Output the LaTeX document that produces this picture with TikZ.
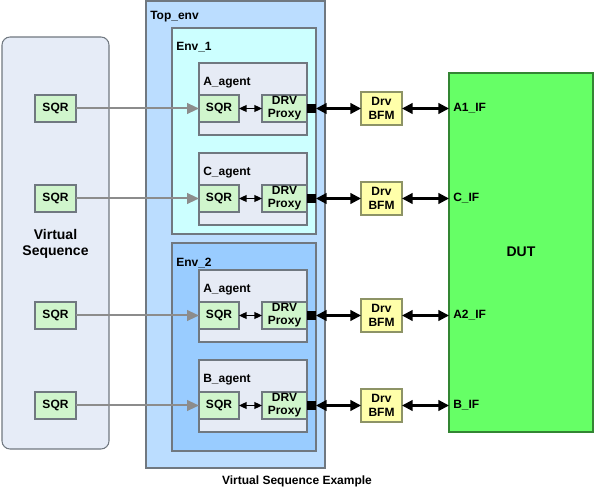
\documentclass[tikz,border=0pt]{standalone}
\usepackage{fontspec}
\setmainfont{Liberation Sans}
\usetikzlibrary{arrows.meta}
\definecolor{vsfill}{HTML}{E6ECF7}
\definecolor{topfill}{HTML}{BBDDFF}
\definecolor{envone}{HTML}{CCFFFF}
\definecolor{envtwo}{HTML}{99CCFF}
\definecolor{agfill}{HTML}{E6EBF5}
\definecolor{sqrfill}{HTML}{D0F5CC}
\definecolor{bfmfill}{HTML}{FFFFAA}
\definecolor{dutfill}{HTML}{66FF66}
\definecolor{bord}{HTML}{707880}
\tikzset{
  bx/.style 2 args={minimum width=#1*0.75pt, minimum height=#2*0.75pt, inner sep=0pt, outer sep=0pt},
  frame/.style={draw=bord, line width=0.8pt},
  sqrbox/.style={frame, fill=sqrfill, bx={40}{27}, font=\bfseries\fontsize{9}{10}\selectfont, align=center},
  drvbox/.style={frame, fill=sqrfill, bx={45}{27}, font=\bfseries\fontsize{9}{9.8}\selectfont, align=center},
  lsqr/.style={frame, fill=sqrfill, bx={41}{27}, font=\bfseries\fontsize{9}{10}\selectfont},
  bfmbox/.style={draw=bord!80!yellow, line width=0.8pt, fill=bfmfill, bx={41}{33}, font=\bfseries\fontsize{9}{10}\selectfont, align=center},
  agentbox/.style={frame, fill=agfill, bx={108}{72}},
  blk/.style={fill=black, bx={9}{9}},
  lbl/.style={anchor=west, inner sep=0pt, font=\bfseries\fontsize{9}{10}\selectfont},
  grayarrow/.style={draw=gray!90, line width=1.5pt, -{Triangle[length=9pt,width=8pt]}},
  smallarrow/.style={line width=1.2pt, {Triangle[length=5.8pt,width=5.2pt]}-{Triangle[length=5.8pt,width=5.2pt]}},
  bigarrow/.style={line width=1.6pt, {Triangle[length=8pt,width=8pt]}-{Triangle[length=8pt,width=8pt]}},
}
\begin{document}
\begin{tikzpicture}[x=0.75pt,y=-0.75pt]
\useasboundingbox (0,0) rectangle (594,492);
% containers
\node[frame, fill=vsfill, rounded corners=6pt, bx={107}{412}] (vs) at (55.5,243) {};
\node[font=\bfseries\fontsize{10.5}{12.5}\selectfont, align=center] (vslbl) at (55.5,244) {Virtual\\Sequence};
\node[frame, fill=topfill, bx={179}{467}] (top) at (235.5,234.5) {};
\node[lbl] (toplbl) at (150,17) {Top\_env};
\node[frame, fill=envone, bx={144}{206}] (env1) at (244,131) {};
\node[lbl] (env1lbl) at (176,47) {Env\_1};
\node[frame, fill=envtwo, bx={144}{208}] (env2) at (244,347) {};
\node[lbl] (env2lbl) at (176,263) {Env\_2};
% DUT
\node[draw=green!40!black!80, line width=0.8pt, fill=dutfill, bx={144}{359}] (dut) at (521,252.5) {};
\node[font=\bfseries\fontsize{10.5}{12}\selectfont] (dutlbl) at (521,252) {DUT};
% rows
\foreach \i/\top/\name/\ifn in {1/63/A\_agent/A1\_IF, 2/153/C\_agent/C\_IF, 3/270/A\_agent/A2\_IF, 4/360/B\_agent/B\_IF}{
  \pgfmathsetmacro{\cy}{\top+45.5}
  \node[agentbox] (ag\i) at (253,\top+36) {};
  \node[lbl] (aglbl\i) at (203,\top+20) {\name};
  \node[sqrbox] (sqr\i) at (219,\cy) {SQR};
  \node[drvbox] (drv\i) at (284.5,\cy) {DRV\\Proxy};
  \node[blk] (blk\i) at (311.5,\cy) {};
  \node[lsqr] (lsqr\i) at (55.5,\cy) {SQR};
  \node[bfmbox] (bfm\i) at (381.5,\cy) {Drv\\BFM};
  \node[lbl] (if\i) at (453,\cy) {\ifn};
  \draw[grayarrow] (lsqr\i.east) -- (sqr\i.west);
  \draw[smallarrow] (sqr\i.east) -- (drv\i.west);
  \draw[bigarrow] (blk\i.east) -- (bfm\i.west);
  \draw[bigarrow] (bfm\i.east) -- (bfm\i.east -| dut.west);
}
\node[font=\bfseries\fontsize{9}{10}\selectfont] (cap) at (297,481) {Virtual Sequence Example};
\end{tikzpicture}
\end{document}
